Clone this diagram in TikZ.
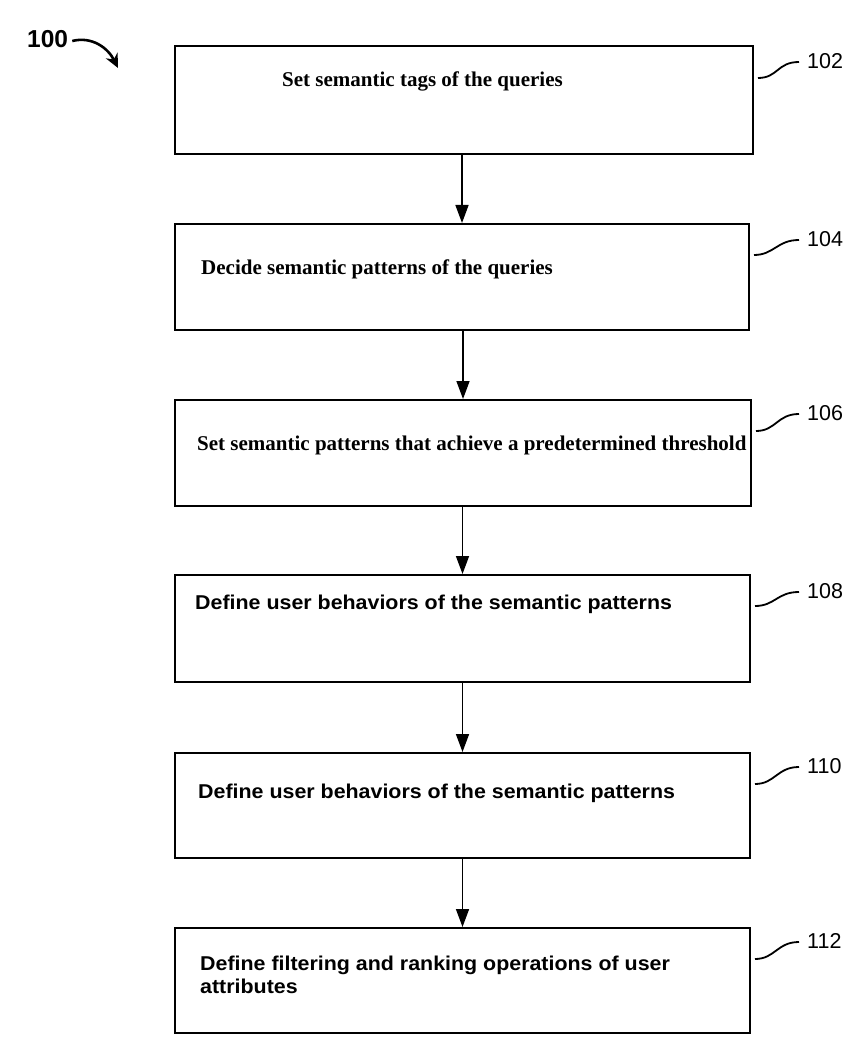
\documentclass[tikz,border=0pt]{standalone}
\usepackage{fontspec}
\setmainfont{Liberation Serif}
\newfontfamily\sansf{Liberation Sans}
\newfontfamily\sansw{Liberation Sans}[FakeStretch=1.07]
\usetikzlibrary{arrows.meta,calc}
\begin{document}
\begin{tikzpicture}[x=1pt,y=-1pt,
  boxnode/.style={draw=black,line width=2pt,rectangle,inner sep=0pt},
  serift/.style={anchor=base west,inner sep=0pt,font=\fontsize{21}{24}\selectfont\bfseries},
  sanst/.style={anchor=base west,inner sep=0pt,align=left,font=\sansw\fontsize{20}{23}\selectfont\bfseries},
  reflab/.style={anchor=west,inner sep=0pt,font=\sansf\fontsize{21.5}{24}\selectfont},
  flow/.style={line width=1.5pt,-{Triangle[length=18pt,width=13pt]}},
  squig/.style={line width=1.8pt}]
\useasboundingbox (0,0) rectangle (863,1059);
% boxes
\node[boxnode,minimum width=578pt,minimum height=108pt] (b1) at (464,100) {};
\node[boxnode,minimum width=574pt,minimum height=106pt] (b2) at (462,277) {};
\node[boxnode,minimum width=576pt,minimum height=106pt] (b3) at (463,453) {};
\node[boxnode,minimum width=575pt,minimum height=107pt] (b4) at (462.5,628.5) {};
\node[boxnode,minimum width=575pt,minimum height=105pt] (b5) at (462.5,805.5) {};
\node[boxnode,minimum width=575pt,minimum height=105pt] (b6) at (462.5,980.5) {};
% texts
\node[serift] (t1) at (282,87) {Set semantic tags of the queries};
\node[serift] (t2) at (201,274) {Decide semantic patterns of the queries};
\node[serift] (t3) at (197,450) {Set semantic patterns that achieve a predetermined threshold};
\node[sanst] (t4) at (195,609) {Define user behaviors of the semantic patterns};
\node[sanst] (t5) at (198,798) {Define user behaviors of the semantic patterns};
\node[sanst,anchor=north west] (t6) at (200,956) {Define filtering and ranking operations of user\\attributes};
% arrows
\draw[flow] (b2.north |- b1.south) -- (b2.north);
\draw[flow] (b3.north |- b2.south) -- (b3.north);
\draw[flow] (b4.north |- b3.south) -- (b4.north);
\draw[flow] (b5.north |- b4.south) -- (b5.north);
\draw[flow] (b6.north |- b5.south) -- (b6.north);
% reference labels
\node[reflab] (l1) at (807,61) {102};
\node[reflab] (l2) at (807,239) {104};
\node[reflab] (l3) at (807,413) {106};
\node[reflab] (l4) at (807,591) {108};
\node[reflab] (l5) at (807,766) {110};
\node[reflab] (l6) at (807,941) {112};
\foreach \i/\y in {1/78,2/255,3/431,4/606,5/784,6/959}{
  \coordinate (s\i) at ($(b\i.east |- 0,\y)+(4,0)$);
  \coordinate (e\i) at ($(l\i.west)+(-8,1)$);
  \draw[squig] (s\i) .. controls ($(s\i)+(20,0)$) and ($(e\i)+(-22,0)$) .. (e\i);
}
% 100 label
\node[anchor=west,inner sep=0pt,font=\sansf\fontsize{24.5}{28}\selectfont\bfseries] (l0) at (27,39) {100};
\coordinate (a0) at (118,68);
\draw[line width=2.6pt,-{Stealth[length=14pt,width=13pt]}] (l0.east) ++(4,2) .. controls (92,36) and (108,48) .. (a0);
\end{tikzpicture}
\end{document}
